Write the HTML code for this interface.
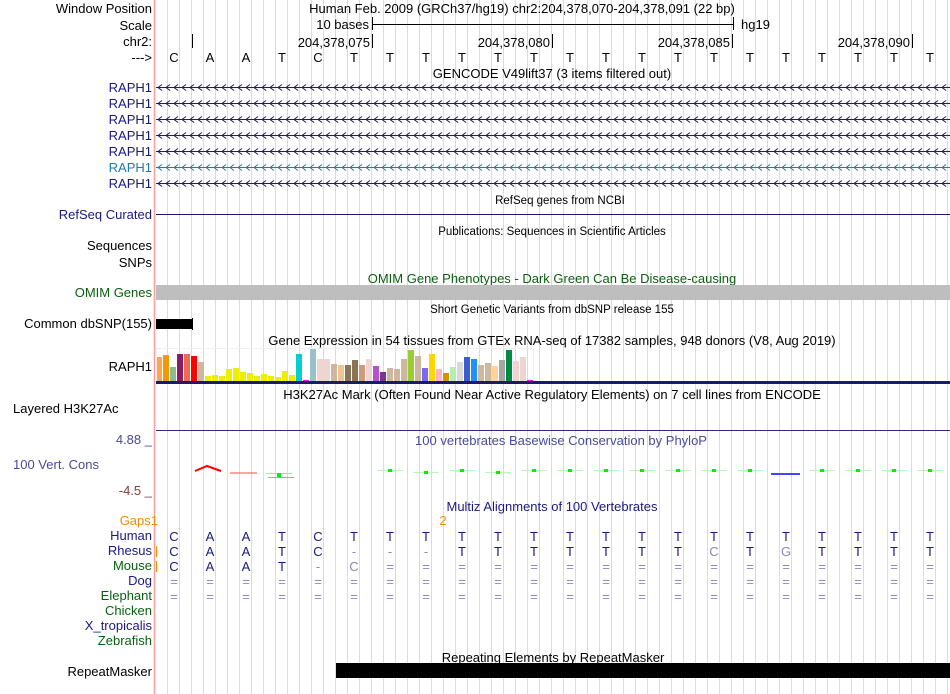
<!DOCTYPE html>
<html><head><meta charset="utf-8"><style>
html,body{margin:0;padding:0;background:#fff;}
svg{display:block;font-family:"Liberation Sans",sans-serif;}
</style></head><body>
<svg width="950" height="694" xmlns="http://www.w3.org/2000/svg">
<g id="grid" stroke="#d8d8f4" stroke-width="1"></g>
<line x1="154.5" y1="0" x2="154.5" y2="694" stroke="#f4a0a0" stroke-width="1.5"/>
<g font-size="13" fill="#000" text-anchor="end">
<text x="152" y="13">Window Position</text>
<text x="152" y="30">Scale</text>
<text x="152" y="46">chr2:</text>
<text x="152" y="62">---&gt;</text>
<g fill="#1a1a80">
<text x="152" y="92">RAPH1</text><text x="152" y="108">RAPH1</text><text x="152" y="124">RAPH1</text>
<text x="152" y="140">RAPH1</text><text x="152" y="156">RAPH1</text>
<text x="152" y="172" fill="#1e7ab8">RAPH1</text><text x="152" y="188">RAPH1</text>
<text x="152" y="219">RefSeq Curated</text>
</g>
<text x="152" y="250">Sequences</text>
<text x="152" y="267">SNPs</text>
<text x="152" y="297" fill="#0a6010">OMIM Genes</text>
<text x="152" y="328">Common dbSNP(155)</text>
<text x="152" y="371">RAPH1</text>
<text x="13" y="413" text-anchor="start">Layered H3K27Ac</text>
<text x="152" y="444" fill="#4a4a9a">4.88 _</text>
<text x="13" y="469" text-anchor="start" fill="#4a4a9a">100 Vert. Cons</text>
<text x="152" y="495" fill="#8b3a3a">-4.5 _</text>
<text x="158" y="525" fill="#f08c00">Gaps1</text>
<text x="152" y="540" fill="#1a1a80">Human</text>
<text x="152" y="555" fill="#1a1a80">Rhesus</text>
<text x="152" y="570" fill="#0a6010">Mouse</text>
<text x="152" y="585" fill="#1a1a80">Dog</text>
<text x="152" y="600" fill="#0a6010">Elephant</text>
<text x="152" y="615" fill="#0a6010">Chicken</text>
<text x="152" y="630" fill="#1a1a80">X_tropicalis</text>
<text x="152" y="645" fill="#0a6010">Zebrafish</text>
<text x="152" y="676">RepeatMasker</text>
</g>
<line x1="156.5" y1="546" x2="156.5" y2="557" stroke="#f08c00"/>
<line x1="156.5" y1="561" x2="156.5" y2="572" stroke="#f08c00"/>
<g font-size="13" text-anchor="middle">
<text x="522" y="13">Human Feb. 2009 (GRCh37/hg19)   chr2:204,378,070-204,378,091 (22 bp)</text>
<text x="552" y="78">GENCODE V49lift37 (3 items filtered out)</text>
<text x="552" y="283" fill="#0a6010">OMIM Gene Phenotypes - Dark Green Can Be Disease-causing</text>
<text x="552" y="345">Gene Expression in 54 tissues from GTEx RNA-seq of 17382 samples, 948 donors (V8, Aug 2019)</text>
<text x="552" y="399">H3K27Ac Mark (Often Found Near Active Regulatory Elements) on 7 cell lines from ENCODE</text>
<text x="561" y="445" fill="#4a4a9a">100 vertebrates Basewise Conservation by PhyloP</text>
<text x="552" y="511" fill="#1a1a80">Multiz Alignments of 100 Vertebrates</text>
<text x="443" y="525" fill="#f08c00">2</text>
<text x="553" y="662">Repeating Elements by RepeatMasker</text>
</g>
<g font-size="11.5" text-anchor="middle">
<text x="560" y="204">RefSeq genes from NCBI</text>
<text x="552" y="235">Publications: Sequences in Scientific Articles</text>
<text x="552" y="313">Short Genetic Variants from dbSNP release 155</text>
</g>
<text x="369" y="29" font-size="13" text-anchor="end">10 bases</text>
<line x1="372.5" y1="17" x2="372.5" y2="30" stroke="#000"/>
<line x1="372" y1="24.5" x2="733" y2="24.5" stroke="#000"/>
<line x1="733.5" y1="17" x2="733.5" y2="30" stroke="#000"/>
<text x="741" y="29" font-size="13">hg19</text>
<g font-size="13" text-anchor="end">
<line x1="192.5" y1="34" x2="192.5" y2="48" stroke="#000"/>
<text x="370" y="47">204,378,075</text><line x1="372.5" y1="34" x2="372.5" y2="48" stroke="#000"/>
<text x="550" y="47">204,378,080</text><line x1="552.5" y1="34" x2="552.5" y2="48" stroke="#000"/>
<text x="730" y="47">204,378,085</text><line x1="732.5" y1="34" x2="732.5" y2="48" stroke="#000"/>
<text x="910" y="47">204,378,090</text><line x1="912.5" y1="34" x2="912.5" y2="48" stroke="#000"/>
</g>
<g id="dyn"></g>
<rect x="156" y="285" width="794" height="15" fill="#bebebe"/>
<rect x="156" y="319" width="36" height="10" fill="#000"/>
<line x1="192.5" y1="318" x2="192.5" y2="330" stroke="#000"/>
<line x1="156" y1="214.5" x2="950" y2="214.5" stroke="#1a1a80"/>
<rect x="156.5" y="348.5" width="377" height="33" fill="none" stroke="#eeeeee"/>
<rect x="156" y="381" width="794" height="3" fill="#1a1a70"/>
<line x1="156" y1="430.5" x2="950" y2="430.5" stroke="#2a2a80"/>
<rect x="336" y="663" width="614" height="15" fill="#000"/>
<path d="M195 471 L207 466 L221 471" stroke="#f00" stroke-width="2" fill="none"/>
<line x1="230" y1="473" x2="257" y2="473" stroke="#f44" stroke-width="1"/>
<line x1="266" y1="473.5" x2="292" y2="473.5" stroke="#8f8"/>
<rect x="277" y="473" width="4" height="4" fill="#0e0"/>
<line x1="268" y1="477.5" x2="294" y2="477.5" stroke="#aa8"/>
<line x1="771" y1="474" x2="800" y2="474" stroke="#44f" stroke-width="2"/>
</svg>
<script>
var ns="http://www.w3.org/2000/svg";
function el(t,a,p,txt){var e=document.createElementNS(ns,t);for(var k in a)e.setAttribute(k,a[k]);if(txt!==undefined)e.textContent=txt;(p||document.getElementById('dyn')).appendChild(e);return e;}
var g=document.getElementById('grid');
for(var x=167;x<950;x+=12){el('line',{x1:x+.5,y1:0,x2:x+.5,y2:694},g);}
var d=document.getElementById('dyn');
var bases="CAATCTTTTTTTTTTTTTTTTT";
var rh="CAATC---TTTTTTTCTGTTTT";
var mo="CAAT-C================";
for(var i=0;i<22;i++){var cx=174+36*i;
 el('text',{x:cx,y:62,'font-size':13,'text-anchor':'middle'},d,bases[i]);
 el('text',{x:cx,y:541,'font-size':13,'text-anchor':'middle',fill:'#1a1a80'},d,bases[i]);
 var r=rh[i],c=(r=='-'||r!=bases[i])?'#8888bb':'#1a1a80';
 el('text',{x:cx,y:556,'font-size':13,'text-anchor':'middle',fill:c},d,r);
 var m=mo[i];c=(m=='-'||m=='='||m!=bases[i])?'#8888bb':'#1a1a80';
 el('text',{x:cx,y:571,'font-size':13,'text-anchor':'middle',fill:c},d,m);
 el('text',{x:cx,y:586,'font-size':13,'text-anchor':'middle',fill:'#8888bb'},d,'=');
 el('text',{x:cx,y:601,'font-size':13,'text-anchor':'middle',fill:'#8888bb'},d,'=');
 if(i>=6&&i!=17){var yy=(i==9||i==7)?472:470;
  el('line',{x1:cx-13,y1:yy+.5,x2:cx+13,y2:yy+.5,stroke:'#b8f8b8'},d);
  el('rect',{x:cx-2,y:yy-1,width:4,height:3,fill:'#0e0'},d);}
}
var ys=[87,103,119,135,151,167,183];
ys.forEach(function(y,k){var col=k==5?'#1e7ab8':'#1a1a70';
 el('line',{x1:156,y1:y+.5,x2:950,y2:y+.5,stroke:col},d);
 var p='';for(var x=158;x<950;x+=8){p+='M'+(x+4)+' '+(y-2.5)+'L'+x+' '+(y+.5)+'L'+(x+4)+' '+(y+3.5);}
 el('path',{d:p,stroke:col,fill:'none','stroke-width':1},d);});
var h=[24,26,14,27,27,25,19,5,6,5,12,13,9,8,5,7,5,4,10,6,27,1,33,22,22,17,16,16,21,16,22,15,9,13,12,22,31,25,13,27,12,8,14,19,24,22,16,18,15,21,31,20,24,1];
var cl=['#FFA54F','#EE9A00','#8FBC8F','#8B1C62','#EE6A50','#FF0000','#CDB79E','#EEEE00','#EEEE00','#EEEE00','#EEEE00','#EEEE00','#EEEE00','#EEEE00','#EEEE00','#EEEE00','#EEEE00','#EEEE00','#EEEE00','#EEEE00','#00CED1','#FF00FF','#9AC0CD','#EED5D2','#EED5D2','#CDB79E','#EEC591','#8B7355','#8B7355','#CD9B79','#EED5D2','#B452CD','#7A378B','#CDB79E','#CDB79E','#CDB79E','#9ACD32','#CDB79E','#7B68EE','#FFD700','#FFB6C1','#CD950C','#B4EEB4','#D9D9D9','#3A5FCD','#1E90FF','#CDB79E','#CDB79E','#FFD39B','#A6A6A6','#008B45','#EED5D2','#EED5D2','#FF00FF'];
for(var i=0;i<54;i++)el('rect',{x:156+7*i,y:381-h[i],width:6,height:h[i],fill:cl[i]},d);
</script>
</body></html>
